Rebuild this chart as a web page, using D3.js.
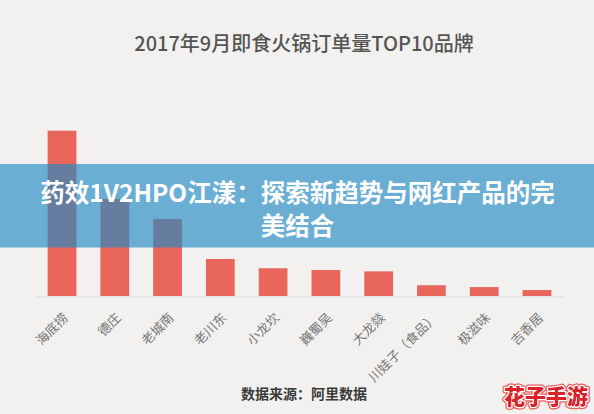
<!DOCTYPE html>
<html><head><meta charset="utf-8">
<script src="https://cdn.jsdelivr.net/npm/d3@7"></script>
<style>
html,body{margin:0;padding:0;background:#f2f1ef;}
svg{display:block;font-family:"Noto Sans CJK SC","Noto Sans",sans-serif;}
</style></head>
<body>
<svg id="c" width="594" height="414"></svg>
<script>
const title = "2017年9月即食火锅订单量TOP10品牌";
const categories = ["海底捞","德庄","老城南","老川东","小龙坎","巍蜀吴","大龙燚","川娃子（食品）","极滋味","吉香居"];
const orderValues = [100, 58.7, 46.6, 22.4, 16.8, 15.7, 14.9, 6.5, 5.4, 3.6];
const sourceText = "数据来源：阿里数据";
const bannerLines = ["药效1V2HPO江漾：探索新趋势与网红产品的完", "美结合"];
const watermark = "花子手游";

const svg = d3.select("#c");
const W = 594, H = 414;
svg.append("rect").attr("width", W).attr("height", H).attr("fill", "#f2f1ef");

const x = d3.scaleBand().domain(categories).range([35.5, 563.5]).paddingInner(0.455).paddingOuter(0.23);
const y = d3.scaleLinear().domain([0, 100]).range([296, 130.7]);

svg.append("text").attr("x", 304).attr("y", 42).attr("text-anchor", "middle")
  .attr("dominant-baseline", "central").attr("font-size", 20).attr("font-weight", 500)
  .attr("fill", "#555555").text(title);

svg.append("g").selectAll("rect").data(categories).join("rect")
  .attr("x", d => x(d)).attr("width", x.bandwidth())
  .attr("y", (d, i) => y(orderValues[i])).attr("height", (d, i) => y(0) - y(orderValues[i]))
  .attr("fill", "#e8665b");

const axis = svg.append("g").attr("transform", "translate(0,296.5)")
  .call(d3.axisBottom(x).tickSize(0).tickSizeOuter(0).tickPadding(0));
axis.select(".domain").attr("stroke", "#dcdcdc").attr("stroke-width", 1.2);
axis.selectAll(".tick text")
  .attr("font-size", 13).attr("fill", "#777777")
  .attr("font-family", '"Noto Sans CJK SC",sans-serif')
  .attr("text-anchor", "end").attr("dy", null).attr("y", null)
  .attr("transform", "translate(7,22) rotate(-45)");

svg.append("text").attr("x", 304).attr("y", 393).attr("text-anchor", "middle")
  .attr("dominant-baseline", "central").attr("font-size", 14).attr("font-weight", "bold")
  .attr("fill", "#3a3a3a").text(sourceText);

// banner overlay
svg.append("rect").attr("x", 0).attr("y", 164).attr("width", W).attr("height", 83.5)
  .attr("fill", "rgb(33,139,197)").attr("fill-opacity", 0.65);
svg.append("g").selectAll("text").data(bannerLines).join("text")
  .attr("x", 297.5).attr("y", (d, i) => 191.5 + i * 33)
  .attr("text-anchor", "middle").attr("dominant-baseline", "central")
  .attr("font-size", 24.5).attr("font-weight", "bold").attr("fill", "#ffffff").text(d => d);

// watermark
svg.append("text").attr("x", 546).attr("y", 395).attr("text-anchor", "middle")
  .attr("dominant-baseline", "central").attr("font-size", 21).attr("font-weight", 900)
  .attr("fill", "none").attr("stroke", "#e85a5a").attr("stroke-width", 5).attr("stroke-linejoin", "round")
  .text(watermark);
svg.append("text").attr("x", 546).attr("y", 395).attr("text-anchor", "middle")
  .attr("dominant-baseline", "central").attr("font-size", 21).attr("font-weight", 900)
  .attr("fill", "#d9232a").attr("stroke", "#ffffff").attr("stroke-width", 2.5)
  .attr("paint-order", "stroke").attr("stroke-linejoin", "round").text(watermark);
</script>
</body></html>
